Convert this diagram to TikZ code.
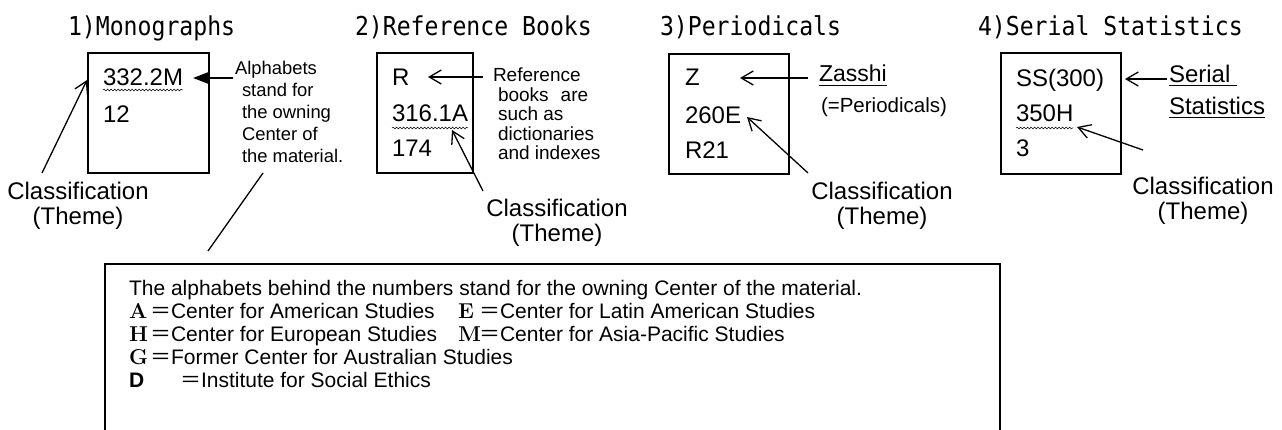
\documentclass[tikz,border=0pt]{standalone}
\usepackage{fontspec}
\setsansfont{Liberation Sans}
\renewcommand\familydefault{\sfdefault}
\newfontfamily\titlefont[FakeStretch=0.89]{DejaVu Sans Mono}
\newfontfamily\cjkfont{Noto Sans CJK JP}
\usetikzlibrary{arrows.meta,decorations.pathmorphing}
\newcommand\fsz[2]{\fontsize{#1}{#2}\selectfont}
\newcommand\tlines[1]{\begin{tabular}[t]{@{}l@{}}#1\end{tabular}}
\newcommand\clines[1]{\begin{tabular}[t]{@{}c@{}}#1\end{tabular}}
\newcommand\RL[1]{\makebox[21pt][l]{\rmfamily\bfseries\fontsize{21.5}{23}\selectfont #1}}
\newcommand\EQ{{\cjkfont ＝}}
\begin{document}
\begin{tikzpicture}[x=1pt,y=-1pt,
  every node/.style={inner sep=0pt, outer sep=0pt},
  title/.style={anchor=base west, font=\titlefont\fsz{26}{30}},
  card/.style={draw, line width=1.6pt, anchor=north west},
  code/.style={anchor=base west, font=\fsz{24}{28}},
  note/.style={anchor=base west},
  cls/.style={anchor=base, font=\fsz{24}{24}},
  barb/.style={line width=1.3pt, -{Straight Barb[length=12pt,width=14pt,line width=1.3pt]}},
  filledarr/.style={line width=2pt, -{Triangle[length=15pt,width=11pt]}},
  wavy/.style={decorate, decoration={snake, amplitude=0.9pt, segment length=3.5pt}, line width=0.5pt},
  uline/.style={line width=1pt},
  plainline/.style={line width=1.3pt}]
\useasboundingbox (0,0) rectangle (1282,430);

% titles
\node[title] (t1) at (68,36) {1)Monographs};
\node[title] (t2) at (355,36) {2)Reference Books};
\node[title] (t3) at (660,36) {3)Periodicals};
\node[title] (t4) at (978,36) {4)Serial Statistics};

% cards
\node[card, minimum width=121pt, minimum height=120pt] (box1) at (88,53) {};
\node[card, minimum width=96pt, minimum height=120pt] (box2) at (377,53) {};
\node[card, minimum width=120pt, minimum height=120pt] (box3) at (669,54) {};
\node[card, minimum width=120pt, minimum height=121pt] (box4) at (1001,53) {};

% card contents
\node[code] (c1a) at (103,86) {332.2M};
\node[code] (c1b) at (103,123) {12};
\node[code] (c2a) at (392,86) {R};
\node[code] (c2b) at (392,122) {316.1A};
\node[code] (c2c) at (392,157) {174};
\node[code] (c3a) at (685,86) {Z};
\node[code] (c3b) at (685,124) {260E};
\node[code] (c3c) at (685,159) {R21};
\node[code] (c4a) at (1016,87) {SS(300)};
\node[code] (c4b) at (1016,122) {350H};
\node[code] (c4c) at (1016,157) {3};

\draw[wavy] ([yshift=-4pt]c1a.base west) -- ([yshift=-4pt]c1a.base east);
\draw[wavy] ([yshift=-6pt]c2b.base west) -- ([yshift=-6pt]c2b.base east);
\draw[wavy] ([yshift=-6pt]c4b.base west) -- ([yshift=-6pt]c4b.base east);

% annotations
\node[note, font=\fsz{18.4}{22}] (ann1) at (235,75)
  {\tlines{Alphabets\\\hspace*{7pt}stand for\\\hspace*{7pt}the owning\\\hspace*{7pt}Center of\\\hspace*{7pt}the material.}};
\node[note, font=\fsz{19}{18.8}] (ann2) at (493,82)
  {\tlines{Reference\\\hspace*{5pt}books\hspace{12pt}are\\\hspace*{5pt}such as\\\hspace*{5pt}dictionaries\\\hspace*{5pt}and indexes}};
\node[note, font=\fsz{23}{26}] (zas) at (819,82) {Zasshi};
\node[note, font=\fsz{20.5}{24}] (per) at (821,113) {(=Periodicals)};
\node[note, font=\fsz{24}{28}] (ser) at (1169,83) {Serial\hspace*{7pt}};
\node[note, font=\fsz{24}{28}] (stat) at (1169,115) {Statistics};
\draw[uline] ([yshift=-4pt]zas.base west) -- ([yshift=-4pt]zas.base east);
\draw[uline] ([yshift=-3pt]ser.base west) -- ([yshift=-3pt]ser.base east);
\draw[uline] ([yshift=-3pt]stat.base west) -- ([yshift=-3pt]stat.base east);

\node[cls] (cls1) at (78,200) {\clines{Classification\\(Theme)}};
\node[cls] (cls2) at (557,217) {\clines{Classification\\(Theme)}};
\node[cls] (cls3) at (882,200) {\clines{Classification\\(Theme)}};
\node[cls] (cls4) at (1203,195) {\clines{Classification\\(Theme)}};

% arrow end points
\coordinate (a1s) at (233,78);  \coordinate (a1t) at (193,78);
\coordinate (a2s) at (42,173);  \coordinate (a2t) at (87,80);
\coordinate (a3s) at (483,77);  \coordinate (a3t) at (428,77);
\coordinate (a4s) at (483,191); \coordinate (a4t) at (452,130);
\coordinate (a5s) at (808,78);  \coordinate (a5t) at (740,78);
\coordinate (a6s) at (808,173); \coordinate (a6t) at (747,117);
\coordinate (a7s) at (1167,79); \coordinate (a7t) at (1125,79);
\coordinate (a8s) at (1143,150);\coordinate (a8t) at (1077,127);
\coordinate (l1) at (263,173);  \coordinate (l2) at (208,251);

\draw[filledarr] (a1s) -- (a1t);
\draw[barb] (a2s) -- (a2t);
\draw[barb] (a3s) -- (a3t);
\draw[barb] (a4s) -- (a4t);
\draw[barb] (a5s) -- (a5t);
\draw[barb] (a6s) -- (a6t);
\draw[barb] (a7s) -- (a7t);
\draw[barb] (a8s) -- (a8t);
\draw[plainline] (l1) -- (l2);

% legend box
\node[card, minimum width=895pt, minimum height=200pt] (legend) at (105,264) {};
\node[note, font=\fsz{21}{23}] (legtext) at (129,296) {\tlines{%
The alphabets behind the numbers stand for the owning Center of the material.\\
\makebox[329pt][l]{\RL{A}\EQ Center for American Studies}\RL{E}\EQ Center for Latin American Studies\\
\makebox[329pt][l]{\RL{H}\EQ Center for European Studies}\RL{M}\EQ Center for Asia-Pacific Studies\\
\RL{G}\EQ Former Center for Australian Studies\\
\makebox[51pt][l]{\bfseries D}\EQ Institute for Social Ethics}};
\end{tikzpicture}
\end{document}
